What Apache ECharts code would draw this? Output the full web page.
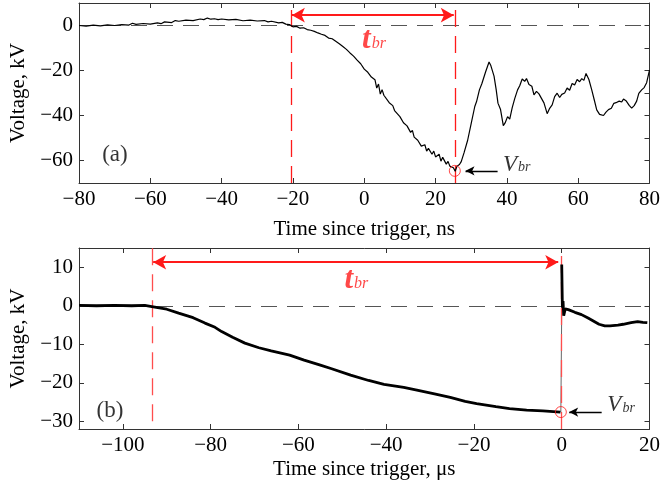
<!DOCTYPE html>
<html>
<head>
<meta charset="utf-8">
<script src="https://cdn.jsdelivr.net/npm/echarts@6/dist/echarts.min.js"></script>
<style>
  html, body { margin: 0; padding: 0; background: #fff; }
  #chart { width: 663px; height: 487px; }
</style>
</head>
<body>
<div id="chart"></div>
<script>
  // panel (a): time in ns, voltage in kV
  const traceA = [
    [-80, 0.0], [-78, -0.3], [-76, 0.2], [-74, -0.2], [-72, 0.3], [-70, 0.0], [-68, 0.4], [-66, 0.2],
    [-65, 1.0], [-64, 0.5], [-62, 0.9], [-60, 0.6], [-58, 1.2], [-57, 0.8], [-56, 1.6], [-54, 1.3],
    [-53, 2.2], [-52, 1.9], [-50, 2.4], [-48, 2.2], [-46, 2.9], [-45, 2.6], [-44, 3.3], [-43, 2.8],
    [-42, 3.0], [-41, 2.6], [-40, 2.9], [-38, 2.5], [-36, 2.7], [-34, 2.1], [-32, 2.4], [-30, 2.0],
    [-28, 2.2], [-27, 1.6], [-26, 1.9], [-24, 1.2], [-23, 1.4], [-22, 0.6], [-21, 0.4], [-20, -0.6],
    [-19, -0.4], [-18, -1.2], [-17, -1.0], [-16, -1.8], [-15, -2.1], [-14, -2.6], [-13, -3.3], [-12, -3.9],
    [-11, -4.4], [-10, -5.6], [-9, -5.9], [-8, -7.0], [-7, -8.1], [-6, -9.3], [-5, -10.6], [-4, -12.2],
    [-3, -13.6], [-2, -15.4], [-1, -17.0], [0, -19.4], [0.5, -18.9], [1, -20.8], [2, -22.9], [3, -24.1],
    [3.5, -27.8], [4, -26.0], [4.5, -30.5], [5, -28.5], [5.5, -31.0], [6, -30.8], [7, -34.3], [8, -35.6],
    [8.5, -37.8], [9, -37.0], [10, -40.5], [10.5, -39.8], [11, -43.2], [12, -44.6], [13, -47.5], [13.5, -46.6],
    [14, -49.6], [15, -51.0], [15.5, -50.2], [16, -53.6], [17, -53.0], [17.5, -55.8], [18, -54.6], [19, -57.2],
    [19.5, -55.8], [20, -58.4], [21, -57.2], [21.5, -60.3], [22, -58.6], [23, -61.6], [23.5, -60.4], [24, -62.5],
    [25, -63.2], [25.5, -64.8], [26, -62.6], [26.7, -61.8], [27.2, -60.5], [28, -56.5], [29, -51.0], [30, -43.5],
    [31, -36.0], [31.5, -33.8], [32.3, -28.6], [33, -25.8], [34, -20.8], [35, -16.2], [35.5, -17.8], [36.4, -22.5],
    [37, -28.5], [37.5, -34.5], [38.2, -37.2], [39, -44.5], [39.5, -43.3], [40.2, -40.5], [40.8, -41.6], [41.5, -36.5],
    [42.2, -32.5], [43, -28.6], [43.6, -26.8], [44.3, -23.8], [45, -24.8], [45.5, -23.6], [46.2, -26.2], [47, -27.0],
    [47.6, -30.8], [48.3, -29.3], [49, -30.4], [49.7, -32.4], [50.4, -34.4], [51.3, -39.2], [52, -36.8], [52.7, -35.3],
    [53.4, -31.6], [54.1, -30.1], [54.8, -32.0], [55.4, -30.6], [56.2, -30.0], [56.9, -27.8], [57.6, -28.8], [58.3, -25.8],
    [59, -26.4], [59.7, -24.0], [60.4, -25.0], [61, -23.6], [61.6, -24.4], [62.2, -21.3], [63, -24.0], [63.8, -28.6],
    [64.5, -33.0], [65.2, -37.5], [66, -39.5], [67.1, -40.0], [67.8, -38.5], [68.5, -37.4], [69.3, -36.8], [70, -34.6],
    [70.6, -34.3], [71.5, -33.6], [72.2, -34.0], [72.7, -32.7], [73.5, -33.6], [74.3, -35.5], [75, -36.7], [75.7, -35.6],
    [76.4, -33.6], [77, -30.2], [77.8, -28.6], [78.5, -27.6], [79.2, -25.4], [80, -19.8]
  ];
  const tStartA = -20.6;
  const tEndA = 25.4;
  const vBrA = -64.6;

  // panel (b): time in µs, voltage in kV
  const traceBPre = [
    [-110, 0.1], [-106, 0.0], [-102, 0.1], [-98, 0.0], [-95, 0.1], [-93.4, -0.2], [-90, -0.9], [-87.3, -1.9],
    [-84, -3.1], [-81.3, -4.5], [-79, -5.6], [-77.5, -6.7], [-75, -8.2], [-72.2, -9.7], [-69, -10.9], [-66.2, -11.7],
    [-62, -12.8], [-58.7, -14.1], [-55, -15.4], [-52.6, -16.3], [-48.1, -18.0], [-44, -19.4], [-40.5, -20.4], [-36, -21.2],
    [-33, -21.9], [-29, -22.9], [-25.4, -23.8], [-22, -24.8], [-19.4, -25.4], [-15, -26.2], [-11.9, -26.7], [-8, -27.1],
    [-4.3, -27.3], [-0.3, -27.6]
  ];
  const traceBJump = [[-0.2, -27.6], [0.0, -1.0]];
  const traceBPost = [
    [0.0, 10.7], [0.15, -0.5], [0.3, 1.2], [0.45, -2.6], [0.8, -0.8], [1.5, -1.0], [3, -1.7], [4.5, -2.3],
    [6, -3.2], [6.8, -3.7], [8.5, -4.8], [9.8, -5.2], [11, -5.2], [12.8, -5.0], [14, -4.8], [15.8, -4.4],
    [17.3, -4.1], [18.5, -4.3], [19.5, -4.4]
  ];
  const tStartB = -93.4;
  const tEndB = -0.2;
  const vBrB = -27.6;

  const xTicksA = [-80, -60, -40, -20, 0, 20, 40, 60, 80];
  const yTicksA = [-60, -40, -20, 0];
  const yTicksRightA = [-60, -50, -40, -30, -20, -10, 0];
  const xTicksB = [-100, -80, -60, -40, -20, 0, 20];
  const yTicksB = [-30, -20, -10, 0, 10];

  const serif = '"Liberation Serif", "DejaVu Serif", serif';
  const red = '#ff1a1a';
  const redLight = '#ff4d4d';
  const fmt = (v) => (v < 0 ? '\u2212' + (-v) : String(v));

  function xAxis(gridIndex, min, max, ticks, name, top) {
    return {
      type: 'value',
      gridIndex,
      min,
      max,
      position: top ? 'top' : 'bottom',
      name: top ? '' : name,
      nameLocation: 'middle',
      nameGap: gridIndex === 0 ? 36 : 30,
      nameTextStyle: { fontFamily: serif, fontSize: 21, color: '#000' },
      axisLine: { show: true, onZero: false, lineStyle: { color: '#333', width: 1 } },
      axisTick: { show: true, inside: true, length: 5, customValues: ticks, lineStyle: { color: '#333' } },
      axisLabel: {
        show: !top,
        customValues: ticks,
        formatter: fmt,
        fontFamily: serif,
        fontSize: 21,
        color: '#000',
        margin: 6,
      },
      splitLine: { show: false },
    };
  }

  function yAxis(gridIndex, min, max, ticks, right) {
    return {
      type: 'value',
      gridIndex,
      min,
      max,
      position: right ? 'right' : 'left',
      name: right ? '' : 'Voltage, kV',
      nameLocation: 'middle',
      nameGap: 50,
      nameTextStyle: { fontFamily: serif, fontSize: 21, color: '#000' },
      axisLine: { show: true, onZero: false, lineStyle: { color: '#333', width: 1 } },
      axisTick: { show: true, inside: true, length: 5, customValues: ticks, lineStyle: { color: '#333' } },
      axisLabel: {
        show: !right,
        customValues: ticks,
        formatter: fmt,
        fontFamily: serif,
        fontSize: 21,
        color: '#000',
        margin: 6,
      },
      splitLine: { show: false },
    };
  }

  function annotations(xi, yi, pts) {
    return {
      type: 'scatter',
      xAxisIndex: xi,
      yAxisIndex: yi,
      symbolSize: 0,
      silent: true,
      z: 10,
      data: pts.map((p) => ({
        value: [p.x, p.y],
        label: {
          show: true,
          position: 'right',
          distance: 0,
          formatter: p.text,
          rich: p.rich,
          fontFamily: serif,
          fontSize: p.size || 22,
          color: p.color || '#000',
        },
      })),
    };
  }

  const tbrRich = {
    t: { fontFamily: serif, fontStyle: 'italic', fontWeight: 'bold', fontSize: 31, color: red, padding: [0, 1, 8, 0] },
    s: { fontFamily: serif, fontStyle: 'italic', fontSize: 16, color: red },
  };
  const vbrRich = {
    v: { fontFamily: serif, fontStyle: 'italic', fontSize: 23, color: '#000', padding: [0, 1, 6, 0] },
    s: { fontFamily: serif, fontStyle: 'italic', fontSize: 14, color: '#000' },
  };

  function breakMark(xi, yi, t, v) {
    return {
      type: 'scatter',
      xAxisIndex: xi,
      yAxisIndex: yi,
      symbol: 'circle',
      symbolSize: 11,
      silent: true,
      z: 9,
      itemStyle: { color: 'transparent', borderColor: red, borderWidth: 1 },
      data: [[t, v]],
    };
  }

  const myChart = echarts.init(document.getElementById('chart'));
  const options = {
    animation: false,
    grid: [
      { left: 79, right: 10, top: 3, height: 180 },
      { left: 79, right: 10, top: 248, height: 181 },
    ],
    xAxis: [
      xAxis(0, -80, 80, xTicksA, 'Time since trigger, ns', false),
      xAxis(0, -80, 80, xTicksA, '', true),
      xAxis(1, -110, 20, xTicksB, 'Time since trigger, \u03bcs', false),
      xAxis(1, -110, 20, xTicksB, '', true),
    ],
    yAxis: [
      yAxis(0, -70, 10, yTicksA, false),
      yAxis(0, -70, 10, yTicksRightA, true),
      yAxis(1, -32, 15, yTicksB, false),
      yAxis(1, -32, 15, yTicksB, true),
    ],
    series: [
      {
        type: 'line',
        xAxisIndex: 0,
        yAxisIndex: 0,
        data: traceA,
        showSymbol: false,
        lineStyle: { color: '#000', width: 1.2 },
        z: 5,
        markLine: {
          silent: true,
          symbol: ['none', 'none'],
          label: { show: false },
          data: [
            [
              { coord: [-80, 0], lineStyle: { color: '#555', width: 1, type: [16, 10] } },
              { coord: [80, 0] },
            ],
            [
              { coord: [tStartA, -70], lineStyle: { color: red, width: 1.3, type: [17, 9] } },
              { coord: [tStartA, 10] },
            ],
            [
              { coord: [tEndA, -70], lineStyle: { color: red, width: 1.3, type: [17, 9] } },
              { coord: [tEndA, 10] },
            ],
            [
              { coord: [tStartA + 0.3, 4.6], symbol: 'arrow', symbolSize: [11, 13], lineStyle: { color: red, width: 2, type: 'solid' } },
              { coord: [tEndA - 0.3, 4.6], symbol: 'arrow', symbolSize: [11, 13] },
            ],
            [
              { coord: [37.4, vBrA], symbol: 'none', lineStyle: { color: '#000', width: 1.3, type: 'solid' } },
              { coord: [28.4, vBrA], symbol: 'arrow', symbolSize: [7, 9] },
            ],
          ],
        },
      },
      breakMark(0, 0, 25.4, vBrA),
      annotations(0, 0, [
        { x: -0.6, y: -8.2, text: '{t|t}{s|br}', rich: tbrRich },
        { x: 38.9, y: -63.2, text: '{v|V}{s|br}', rich: vbrRich },
        { x: -73.5, y: -57.4, text: '(a)', size: 23 },
      ]),
      {
        type: 'line',
        xAxisIndex: 2,
        yAxisIndex: 2,
        data: traceBPre,
        showSymbol: false,
        lineStyle: { color: '#000', width: 2.8 },
        z: 5,
        markLine: {
          silent: true,
          symbol: ['none', 'none'],
          label: { show: false },
          data: [
            [
              { coord: [-110, 0], lineStyle: { color: '#555', width: 1, type: [16, 10] } },
              { coord: [20, 0] },
            ],
            [
              { coord: [tStartB, -30], lineStyle: { color: redLight, width: 1.3, type: [17, 9] } },
              { coord: [tStartB, 15] },
            ],
            [
              { coord: [tEndB, -32], lineStyle: { color: redLight, width: 1.3, type: [17, 9] } },
              { coord: [tEndB, 15] },
            ],
            [
              { coord: [tStartB + 0.3, 11.3], symbol: 'arrow', symbolSize: [11, 13], lineStyle: { color: red, width: 2, type: 'solid' } },
              { coord: [tEndB - 0.6, 11.3], symbol: 'arrow', symbolSize: [11, 13] },
            ],
            [
              { coord: [9.1, vBrB], symbol: 'none', lineStyle: { color: '#000', width: 1.3, type: 'solid' } },
              { coord: [1.7, vBrB], symbol: 'arrow', symbolSize: [7, 9] },
            ],
          ],
        },
      },
      {
        type: 'line',
        xAxisIndex: 2,
        yAxisIndex: 2,
        data: traceBJump,
        showSymbol: false,
        lineStyle: { color: '#666', width: 1 },
        z: 4,
      },
      {
        type: 'line',
        xAxisIndex: 2,
        yAxisIndex: 2,
        data: traceBPost,
        showSymbol: false,
        lineStyle: { color: '#000', width: 2.8 },
        z: 5,
      },
      breakMark(2, 2, -0.2, vBrB),
      annotations(2, 2, [
        { x: -49.5, y: 5.7, text: '{t|t}{s|br}', rich: tbrRich },
        { x: 10.4, y: -26.6, text: '{v|V}{s|br}', rich: vbrRich },
        { x: -106, y: -27.2, text: '(b)', size: 23 },
      ]),
    ],
  };
  myChart.setOption(options);
</script>
</body>
</html>
